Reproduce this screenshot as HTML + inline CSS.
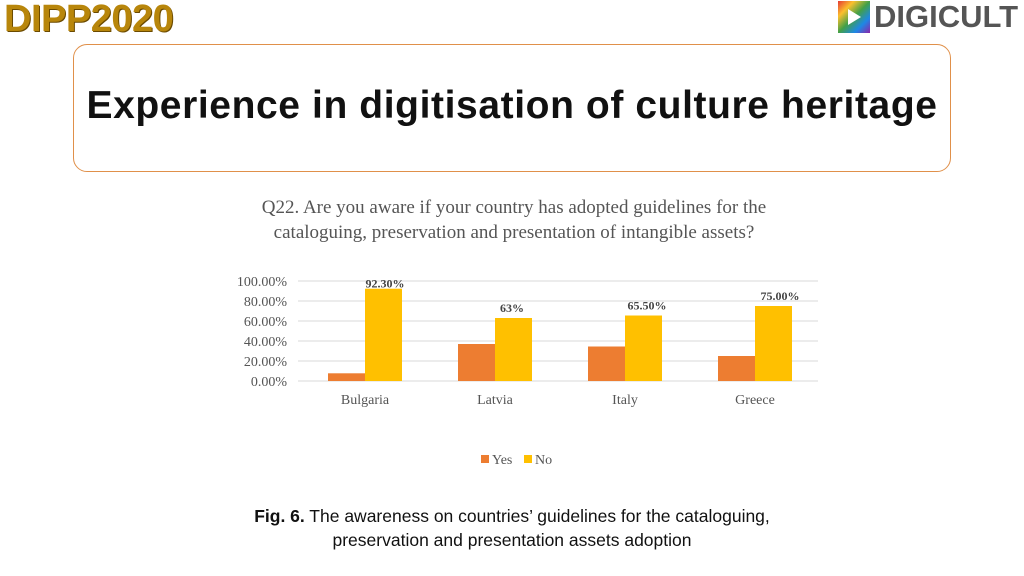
<!DOCTYPE html>
<html><head><meta charset="utf-8"><style>
body{margin:0;width:1024px;height:576px;background:#fff;position:relative;overflow:hidden;font-family:"Liberation Sans",sans-serif}
.abs{position:absolute}
</style></head><body>
<div class="abs" style="left:4px;top:-2px;font:bold 38px 'Liberation Sans',sans-serif;color:#b8860b;letter-spacing:-0.5px;text-shadow:1px 1px 0 #6b4a00">DIPP2020</div>
<div class="abs" style="left:838px;top:0;height:34px;display:flex;align-items:center">
<div style="width:32px;height:32px;background:linear-gradient(135deg,#e53935,#fbc02d,#43a047,#1e88e5,#8e24aa);position:relative"><div style="position:absolute;left:10px;top:8px;width:0;height:0;border-left:13px solid #fff;border-top:8px solid transparent;border-bottom:8px solid transparent"></div></div>
<span style="font:bold 31px 'Liberation Sans',sans-serif;color:#555;margin-left:4px">DIGICULT</span></div>
<div class="abs" style="left:73px;top:44px;width:876px;height:126px;border:1px solid #e0904a;border-radius:14px"></div>
<div class="abs" style="left:73px;top:84px;width:878px;text-align:center;font:bold 39px 'Liberation Sans',sans-serif;color:#111;letter-spacing:0.6px">Experience in digitisation of culture heritage</div>
<div class="abs" style="left:180px;top:195px;width:668px;text-align:center;font:19px/25px 'Liberation Serif',serif;color:#555">Q22. Are you aware if your country has adopted guidelines for the<br>cataloguing, preservation and presentation of intangible assets?</div>
<svg class="abs" style="left:0;top:0" width="1024" height="576" id="chart"></svg>
<div class="abs" style="left:180px;top:504px;width:664px;text-align:center;font:17.5px/24px 'Liberation Sans',sans-serif;color:#111"><b>Fig. 6.</b> The awareness on countries’ guidelines for the cataloguing,<br>preservation and presentation assets adoption</div>
<script>
const categories=["Bulgaria","Latvia","Italy","Greece"];
const yesValues=[7.7,37,34.5,25];
const noValues=[92.3,63,65.5,75];
const noLabels=["92.30%","63%","65.50%","75.00%"];
const yTicks=[0,20,40,60,80,100];
const svg=document.getElementById('chart');const NS='http://www.w3.org/2000/svg';
const x0=300,x1=820,yb=381,yt=281;
const y=v=>yb-(v/100)*(yb-yt);
const gw=(x1-x0)/categories.length;
function mk(t,a){const e=document.createElementNS(NS,t);for(const k in a)e.setAttribute(k,a[k]);svg.appendChild(e);return e;}
yTicks.forEach(t=>{const l=mk('line',{x1:x0-2,x2:x1-2,y1:y(t),y2:y(t),stroke:'#d9d9d9'});


const tx=mk('text',{x:287,y:y(t)+5,'text-anchor':'end','font-family':'Liberation Serif,serif','font-size':14,fill:'#555'});tx.textContent=t.toFixed(2)+'%';

});
categories.forEach((c,i)=>{const cx=x0+gw*(i+0.5);
const a=mk('rect',{x:cx-37,y:y(yesValues[i]),width:37,height:yb-y(yesValues[i]),fill:'#ed7d31'});


const b=mk('rect',{x:cx,y:y(noValues[i]),width:37,height:yb-y(noValues[i]),fill:'#ffc000'});


const lb=mk('text',{x:cx+(i==0?2:i==3?7:i==2?4:-1)+18,y:y(noValues[i])-(i==0?1:6),'text-anchor':'middle','font-family':'Liberation Serif,serif','font-size':12,'font-weight':'bold',fill:'#444'});lb.textContent=noLabels[i];


const ct=mk('text',{x:cx,y:404,'text-anchor':'middle','font-family':'Liberation Serif,serif','font-size':14,fill:'#555'});ct.textContent=c;

});
const l1=mk('rect',{x:481,y:455,width:8,height:8,fill:'#ed7d31'});


const t1=mk('text',{x:492,y:464,'font-family':'Liberation Serif,serif','font-size':14,fill:'#555'});t1.textContent='Yes';


const l2=mk('rect',{x:524,y:455,width:8,height:8,fill:'#ffc000'});


const t2=mk('text',{x:535,y:464,'font-family':'Liberation Serif,serif','font-size':14,fill:'#555'});t2.textContent='No';


</script>
</body></html>
